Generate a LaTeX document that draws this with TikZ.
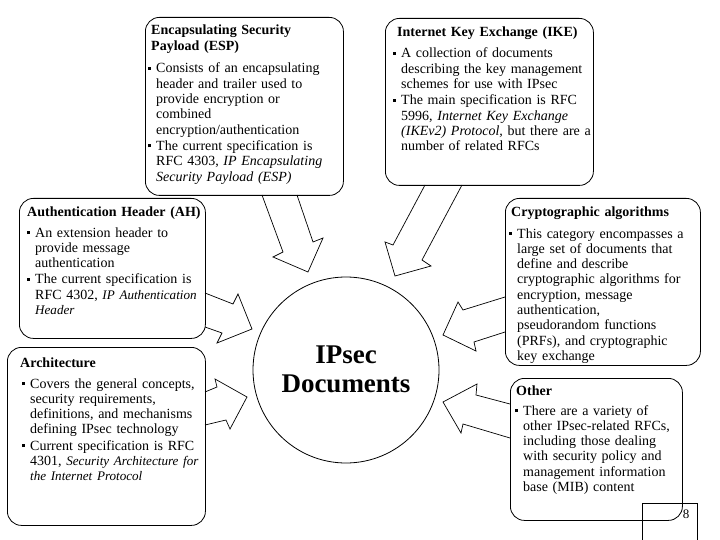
\documentclass[tikz,border=0pt]{standalone}
\usepackage{fontspec}
\setmainfont{Liberation Serif}
\newcommand\bulmark{\makebox[8pt][l]{\rule[3pt]{2.6pt}{3pt}}}
\newcommand\bulA{\hangindent=8pt\hangafter=1\noindent\bulmark}
\newcommand\bul{\par\vspace{1pt}\hangindent=8pt\hangafter=1\noindent\bulmark}
\newcommand\itn[1]{{\fontsize{13.1}{15.3}\selectfont\itshape #1}}
\tikzset{
  box/.style={draw, line width=0.8pt, rounded corners=14pt, anchor=north west, inner sep=0pt},
  blk/.style={draw, line width=0.7pt, line join=miter},
  ttl/.style={anchor=base west, inner sep=0pt, text width=260pt, font=\fontsize{14}{15.3}\selectfont\bfseries},
  body/.style={anchor=base west, inner sep=0pt, text width=260pt, font=\fontsize{14}{15.3}\selectfont},
  big/.style={anchor=base, inner sep=0pt, font=\fontsize{27}{29}\selectfont\bfseries},
}
\begin{document}
\begin{tikzpicture}[x=1pt,y=-1pt]
\useasboundingbox (0,0) rectangle (720,540);
% boxes
\node[box, minimum width=198pt, minimum height=178pt] (esp) at (145,17) {};
\node[box, minimum width=208pt, minimum height=167pt] (ike) at (385,18) {};
\node[box, minimum width=186pt, minimum height=140pt] (ah) at (19,198) {};
\node[box, minimum width=195pt, minimum height=167pt] (cry) at (505,198) {};
\node[box, minimum width=198pt, minimum height=178pt] (arch) at (7,347) {};
\node[box, minimum width=172pt, minimum height=142pt] (oth) at (510,378) {};
% centre
\node[circle, draw, line width=0.8pt, minimum size=186pt, inner sep=0pt] (doc) at (346,370) {};
\node[big] (docA) at (346,363) {IPsec};
\node[big] (docB) at (346,392) {Documents};
% texts
\node[ttl] (espT) at (151,35) {Encapsulating Security\newline Payload (ESP)};
\node[body] (espB) at (148,73) {\bulA Consists of an encapsulating\newline header and trailer used to\newline provide encryption or\newline combined\newline encryption/authentication
\bul The current specification is\newline RFC 4303, \textit{IP Encapsulating\newline Security Payload (ESP)}\par};
\node[ttl] (ikeT) at (397,37) {Internet Key Exchange (IKE)};
\node[body] (ikeB) at (393,58) {\bulA A collection of documents\newline describing the key management\newline schemes for use with IPsec
\bul The main specification is RFC\newline 5996, \textit{Internet Key Exchange\newline (IKEv2) Protocol,} but there are a\newline number of related RFCs\par};
\node[ttl] (ahT) at (27,216) {Authentication Header (AH)};
\node[body] (ahB) at (27,237) {\bulA An extension header to\newline provide message\newline authentication
\bul The current specification is\newline RFC 4302, \itn{IP Authentication\newline Header}\par};
\node[ttl] (cryT) at (511,217) {Cryptographic algorithms};
\node[body] (cryB) at (509,238) {\bulA This category encompasses a\newline large set of documents that\newline define and describe\newline cryptographic algorithms for\newline encryption, message\newline authentication,\newline pseudorandom functions\newline (PRFs), and cryptographic\newline key exchange\par};
\node[ttl] (archT) at (20,367) {Architecture};
\node[body] (archB) at (22,388) {\bulA Covers the general concepts,\newline security requirements,\newline definitions, and mechanisms\newline defining IPsec technology
\bul Current specification is RFC\newline 4301, \itn{Security Architecture for\newline the Internet Protocol}\par};
\node[ttl] (othT) at (516,395) {Other};
\node[body] (othB) at (515,415) {\bulA There are a variety of\newline other IPsec-related RFCs,\newline including those dealing\newline with security policy and\newline management information\newline base (MIB) content\par};
% block arrows
\draw[blk] (262,195) -- (283,252) -- (273,257) -- (308,272) -- (323,238) -- (313,242) -- (297,195);
\draw[blk] (425,185) -- (393,245) -- (385,242) -- (395,276) -- (431,266) -- (422,260) -- (462,185);
\draw[blk] (205,293) -- (233,304) -- (238,294) -- (252,329) -- (217,343) -- (222,333) -- (205,327);
\draw[blk] (205,392) -- (217,387) -- (215,379) -- (247,397) -- (230,429) -- (226,420) -- (205,425);
\draw[blk] (505,297) -- (463,310) -- (458,302) -- (443,335) -- (476,351) -- (474,342) -- (505,332);
\draw[blk] (510,404) -- (476,395) -- (477,384) -- (443,402) -- (461,433) -- (463,424) -- (510,438);
% page number
\node[draw, line width=0.8pt, anchor=north west, minimum width=55pt, minimum height=50pt, inner sep=0pt] (pgbox) at (642,503) {};
\node[anchor=base, inner sep=0pt, font=\fontsize{13}{15}\selectfont] (pg) at (686,518) {8};
\end{tikzpicture}
\end{document}
